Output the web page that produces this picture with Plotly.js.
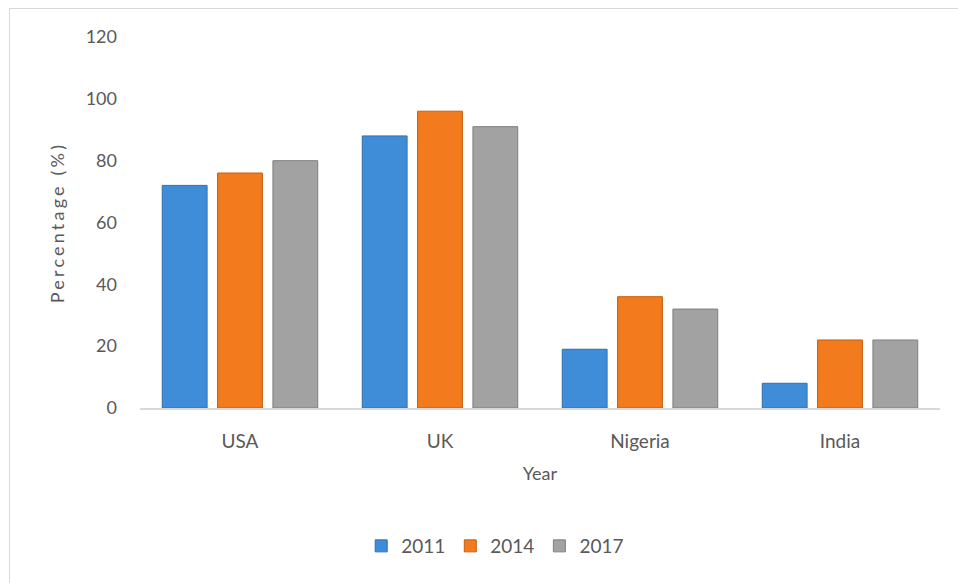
<!DOCTYPE html>
<html>
<head>
<meta charset="utf-8">
<script src="https://cdn.plot.ly/plotly-3.0.1.min.js"></script>
<style>
html,body{margin:0;padding:0;background:#fff;overflow:hidden;}
#frame{position:absolute;left:9px;top:8px;width:1000px;height:620px;border:1px solid #d9d9d9;pointer-events:none;}
#chart{position:absolute;left:0;top:0;width:958px;height:583px;}
#chart .ytitle{letter-spacing:3.2px;}
</style>
</head>
<body>
<div id="frame"></div>
<div id="chart"></div>
<script>
const categories = ["USA", "UK", "Nigeria", "India"];
const series2011 = [72, 88, 19, 8];
const series2014 = [76, 96, 36, 22];
const series2017 = [80, 91, 32, 22];
const seriesNames = ["2011", "2014", "2017"];
const yTicks = [0, 20, 40, 60, 80, 100, 120];

const colors = ["#3f8cd9", "#f27b1d", "#a2a2a2"];
const edges = ["#2f6fae", "#c45f10", "#7f7f7f"];
const allSeries = [series2011, series2014, series2017];

const traces = allSeries.map((vals, i) => ({
  type: "bar",
  name: seriesNames[i],
  x: categories,
  y: vals,
  marker: {color: colors[i], line: {color: edges[i], width: 1}},
  hoverinfo: "x+y+name"
}));

const font = "Lato, 'Open Sans', 'DejaVu Sans', sans-serif";

const layout = {
  width: 958,
  height: 583,
  margin: {l: 140, r: 18, t: 37, b: 175},
  paper_bgcolor: "rgba(0,0,0,0)",
  plot_bgcolor: "rgba(0,0,0,0)",
  barmode: "group",
  bargap: 0.17,
  bargroupgap: 0.19,
  font: {family: font, color: "#595959", size: 18},
  xaxis: {
    type: "category",
    showgrid: false,
    showline: true,
    linecolor: "#d9d9d9",
    linewidth: 1.5,
    ticks: "",
    ticklabelstandoff: 16,
    tickfont: {size: 19, color: "#595959"},
    title: {text: "Year", font: {size: 18, color: "#595959"}, standoff: 16},
    zeroline: false
  },
  yaxis: {
    range: [0, 120],
    tickvals: yTicks,
    ticktext: yTicks.map(String),
    showgrid: false,
    showline: false,
    zeroline: false,
    ticks: "",
    ticklabelstandoff: 22,
    tickfont: {size: 18, color: "#595959"},
    title: {text: "Percentage (%)", font: {size: 18, color: "#595959"}, standoff: 16}
  },
  legend: {
    orientation: "h",
    x: 0.444,
    xanchor: "center",
    y: -0.372,
    yanchor: "middle",
    font: {size: 19, color: "#595959"},
    itemwidth: 30,
    tracegroupgap: 0
  },
  showlegend: true
};

Plotly.newPlot("chart", traces, layout, {displayModeBar: false, staticPlot: true});
</script>
</body>
</html>
